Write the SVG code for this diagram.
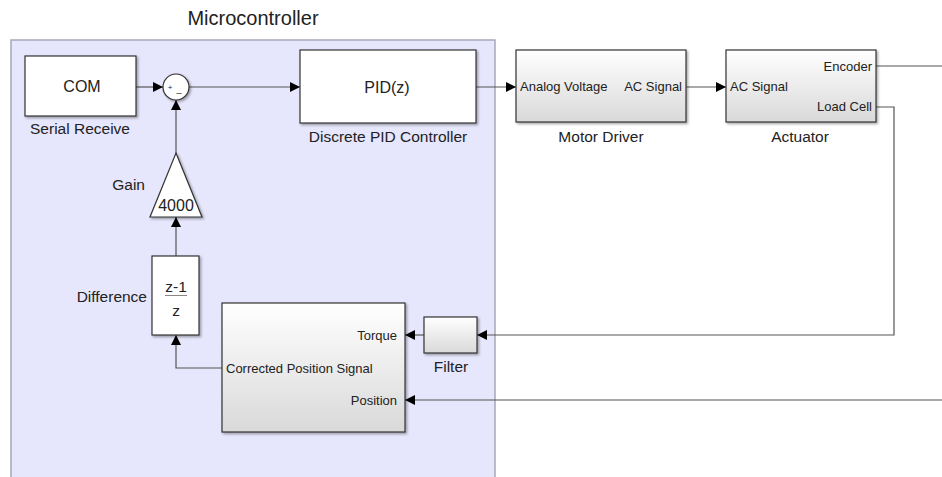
<svg xmlns="http://www.w3.org/2000/svg" width="942" height="477" viewBox="0 0 942 477">
  <defs>
    <linearGradient id="blockGrad" x1="0" y1="0" x2="0" y2="1">
      <stop offset="0" stop-color="#ffffff"/>
      <stop offset="1" stop-color="#d9d9d9"/>
    </linearGradient>
    <filter id="shadow" x="-10%" y="-10%" width="130%" height="130%">
      <feDropShadow dx="1.5" dy="1.5" stdDeviation="0.8" flood-color="#000" flood-opacity="0.35"/>
    </filter>
    <marker id="arrow" viewBox="0 0 10 10" refX="10" refY="5" markerWidth="10" markerHeight="10" markerUnits="userSpaceOnUse" orient="auto">
      <path d="M0,0 L10,5 L0,10 Z" fill="#000"/>
    </marker>
  </defs>
  <style>
    text { font-family: "Liberation Sans", Arial, sans-serif; fill: #222; }
    .plain { fill: #ffffff; stroke: #333; stroke-width: 1.2; filter: url(#shadow); }
    .grad { fill: url(#blockGrad); stroke: #333; stroke-width: 1.2; filter: url(#shadow); }
    .wire { fill: none; stroke: #555; stroke-width: 1.2; }
    .arr { marker-end: url(#arrow); }
    .lbl { font-size: 15.5px; }
    .port { font-size: 13px; }
    .big { font-size: 16px; }
  </style>

  <rect width="942" height="477" fill="#ffffff"/>

  <!-- Microcontroller subsystem area -->
  <g id="microcontroller">
    <rect x="11" y="40" width="484" height="445" fill="#e6e6fc" stroke="#a8a8b8" stroke-width="1.5"/>
    <text x="253" y="25" font-size="20" text-anchor="middle">Microcontroller</text>
  </g>

  <!-- Connectors -->
  <g id="connectors">
    <line class="wire arr" x1="136" y1="87" x2="163" y2="87"/>
    <line class="wire arr" x1="189" y1="87" x2="300" y2="87"/>
    <line class="wire arr" x1="476" y1="87" x2="516" y2="87"/>
    <line class="wire arr" x1="686" y1="87" x2="726" y2="87"/>
    <line class="wire" x1="876" y1="66" x2="942" y2="66"/>
    <polyline class="wire arr" points="876,107 894,107 894,335 477,335"/>
    <line class="wire arr" x1="424" y1="335" x2="405" y2="335"/>
    <line class="wire arr" x1="942" y1="400" x2="405" y2="400"/>
    <polyline class="wire arr" points="222,368 176,368 176,335"/>
    <line class="wire arr" x1="176" y1="256" x2="176" y2="217"/>
    <line class="wire arr" x1="176" y1="153" x2="176" y2="100"/>
  </g>

  <g id="serial-receive">
    <rect class="plain" x="25" y="56" width="111" height="60"/>
    <text class="big" x="82" y="92" text-anchor="middle">COM</text>
    <text class="lbl" x="80" y="134" text-anchor="middle">Serial Receive</text>
  </g>

  <g id="sum">
    <circle class="plain" cx="176" cy="87" r="13"/>
    <text x="170" y="90" font-size="8" text-anchor="middle">+</text>
    <text x="179" y="92" font-size="9" text-anchor="middle">_</text>
  </g>

  <g id="pid">
    <rect class="plain" x="300" y="50" width="176" height="73"/>
    <text class="big" x="387" y="93" text-anchor="middle">PID(z)</text>
    <text class="lbl" x="388" y="142" text-anchor="middle">Discrete PID Controller</text>
  </g>

  <g id="motor-driver">
    <rect class="grad" x="516" y="50" width="170" height="72"/>
    <text class="port" x="520" y="91">Analog Voltage</text>
    <text class="port" x="682" y="91" text-anchor="end">AC Signal</text>
    <text class="lbl" x="601" y="142" text-anchor="middle">Motor Driver</text>
  </g>

  <g id="actuator">
    <rect class="grad" x="726" y="50" width="150" height="72"/>
    <text class="port" x="730" y="91">AC Signal</text>
    <text class="port" x="872" y="71" text-anchor="end">Encoder</text>
    <text class="port" x="872" y="111" text-anchor="end">Load Cell</text>
    <text class="lbl" x="800" y="142" text-anchor="middle">Actuator</text>
  </g>

  <g id="gain">
    <polygon class="plain" points="176,153 202,217 150,217"/>
    <text class="big" x="176" y="211" text-anchor="middle">4000</text>
    <text class="lbl" x="145" y="190" text-anchor="end">Gain</text>
  </g>

  <g id="difference">
    <rect class="plain" x="152" y="256" width="47" height="79"/>
    <text class="lbl" x="176" y="292" text-anchor="middle">z-1</text>
    <line x1="165" y1="295.5" x2="187" y2="295.5" stroke="#888" stroke-width="1"/>
    <text class="lbl" x="176" y="316" text-anchor="middle">z</text>
    <text class="lbl" x="147" y="302" text-anchor="end">Difference</text>
  </g>

  <g id="position-processing">
    <rect class="grad" x="222" y="303" width="183" height="129"/>
    <text class="port" x="397" y="340" text-anchor="end">Torque</text>
    <text class="port" x="226" y="373">Corrected Position Signal</text>
    <text class="port" x="397" y="405" text-anchor="end">Position</text>
  </g>

  <g id="filter">
    <rect class="grad" x="424" y="317" width="53" height="36"/>
    <text class="lbl" x="451" y="372" text-anchor="middle">Filter</text>
  </g>
</svg>
